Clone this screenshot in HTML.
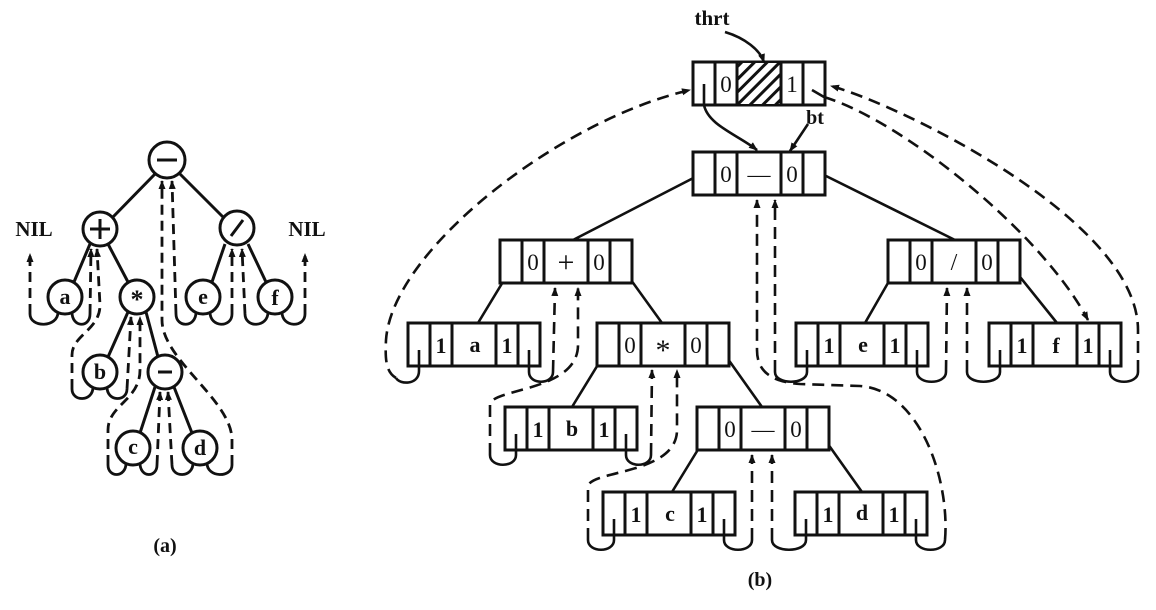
<!DOCTYPE html>
<html><head><meta charset="utf-8"><style>
html,body{margin:0;padding:0;background:#fff;}
svg{display:block;}
text{font-family:"Liberation Serif",serif;fill:#111;}
</style></head><body>
<svg width="1156" height="610" viewBox="0 0 1156 610" xmlns="http://www.w3.org/2000/svg">
<defs>
<marker id="ar" markerWidth="9" markerHeight="8" refX="8" refY="4" orient="auto" markerUnits="userSpaceOnUse"><path d="M0,0.5 L9,4 L0,7.5 Z" fill="#111"/></marker>
<pattern id="hatch" width="9" height="9" patternUnits="userSpaceOnUse" patternTransform="rotate(45)"><rect width="9" height="9" fill="#fff"/><rect width="3" height="9" fill="#111"/></pattern>
<g id="box"><rect x="0" y="0" width="132" height="43" fill="#fff"/><path d="M0 0H132V43H0Z M22 0V43M44 0V43M88 0V43M110 0V43" fill="none" stroke="#111" stroke-width="3"/></g>
</defs>

<!-- ============ (a) ============ -->
<g stroke="#111" stroke-width="3" fill="none">
<path d="M155,174 L112,218 M180,174 L224,218 M90,244 L74,282 M108,244 L128,282 M225,244 L212,282 M248,244 L266,282 M128,312 L108,357 M146,312 L158,357 M155,387 L140,433 M174,387 L192,433"/>
</g>
<g stroke="#111" stroke-width="3" fill="#fff">
<circle cx="167" cy="160" r="18"/><circle cx="100" cy="229" r="17"/><circle cx="237" cy="228" r="17"/>
<circle cx="65" cy="297" r="17"/><circle cx="137" cy="297" r="17"/><circle cx="203" cy="297" r="17"/><circle cx="275" cy="297" r="17"/>
<circle cx="100" cy="372" r="17"/><circle cx="165" cy="372" r="17"/><circle cx="133" cy="448" r="17"/><circle cx="200" cy="448" r="17"/>
</g>
<g stroke="#111" stroke-width="3" fill="none">
<path d="M157,160H177 M90,229H110 M100,219V239 M231,236L243,220 M158,372H172"/>
</g>
<g font-size="22" font-weight="bold" text-anchor="middle">
<text x="65" y="304">a</text><text x="137" y="308" font-size="26">*</text><text x="203" y="304">e</text><text x="275" y="305">f</text>
<text x="100" y="379">b</text><text x="133" y="454">c</text><text x="200" y="455">d</text>
<text x="34" y="236" font-size="21">NIL</text><text x="307" y="236" font-size="21">NIL</text>
<text x="165" y="552" font-size="20">(a)</text>
</g>
<g stroke="#111" stroke-width="2.8" fill="none">
<path d="M58,312 C58,328 30,328 30,314 M72,312 C72,328 90,328 90,314"/>
<path d="M93,387 C93,402 72,402 72,389 M107,387 C107,402 127,402 127,389"/>
<path d="M126,463 C126,478 108,478 108,465 M140,463 C140,478 157,478 157,465"/>
<path d="M193,463 C193,478 172,478 172,465 M207,463 C207,478 232,478 232,465"/>
<path d="M196,312 C196,328 176,328 176,314 M210,312 C210,328 232,328 232,314"/>
<path d="M268,312 C268,328 245,328 245,314 M282,312 C282,328 305,328 305,314"/>
</g>
<g stroke="#111" stroke-width="2.8" fill="none" stroke-dasharray="10,6">
<path d="M30,314 L30,254" marker-end="url(#ar)"/>
<path d="M90,314 L91,249" marker-end="url(#ar)"/>
<path d="M72,389 L72,355 C72,335 100,330 100,305 L97,249" marker-end="url(#ar)"/>
<path d="M127,389 L131,317" marker-end="url(#ar)"/>
<path d="M108,465 L108,430 C108,405 140,400 140,370 L140,317" marker-end="url(#ar)"/>
<path d="M157,465 L160,392" marker-end="url(#ar)"/>
<path d="M172,465 L168,392" marker-end="url(#ar)"/>
<path d="M232,465 L232,440 C232,400 162,360 162,320 L162,181" marker-end="url(#ar)"/>
<path d="M176,314 L172,181" marker-end="url(#ar)"/>
<path d="M232,314 L232,249" marker-end="url(#ar)"/>
<path d="M245,314 L242,249" marker-end="url(#ar)"/>
<path d="M305,314 L305,254" marker-end="url(#ar)"/>
</g>

<!-- ============ (b) ============ -->
<g stroke="#111" stroke-width="2.6" fill="none">
<path d="M705,172 L573,240 M818,172 L955,240 M515,262 L478,323 M618,262 L662,323 M610,345 L572,407 M718,345 L762,407 M710,430 L672,492 M818,430 L862,492 M900,262 L865,323 M1008,262 L1057,323"/>
</g>
<use href="#box" x="693" y="62"/><rect x="737" y="63" width="44" height="41" fill="url(#hatch)"/><path d="M737 62V105M781 62V105" stroke="#111" stroke-width="3"/>
<use href="#box" x="693" y="152"/>
<use href="#box" x="500" y="240"/><use href="#box" x="888" y="240"/>
<use href="#box" x="408" y="323"/><use href="#box" x="597" y="323"/><use href="#box" x="796" y="323"/><use href="#box" x="989" y="323"/>
<use href="#box" x="505" y="407"/><use href="#box" x="697" y="407"/>
<use href="#box" x="603" y="492"/><use href="#box" x="795" y="492"/>
<g font-size="23" text-anchor="middle">
<text x="726" y="92">0</text><text x="792" y="92">1</text>
<text x="726" y="182">0</text><text x="759" y="182">—</text><text x="792" y="182">0</text>
<text x="533" y="270">0</text><text x="566" y="272" font-size="30">+</text><text x="599" y="270">0</text>
<text x="921" y="270">0</text><text x="954" y="270" font-size="24">/</text><text x="987" y="270">0</text>
<text x="630" y="353">0</text><text x="663" y="360" font-size="30">*</text><text x="696" y="353">0</text>
<text x="730" y="437">0</text><text x="763" y="437">—</text><text x="796" y="437">0</text>
</g>
<g font-size="22" font-weight="bold" text-anchor="middle">
<text x="441" y="353">1</text><text x="475" y="352">a</text><text x="507" y="353">1</text>
<text x="829" y="353">1</text><text x="863" y="352">e</text><text x="895" y="353">1</text>
<text x="1022" y="353">1</text><text x="1056" y="353">f</text><text x="1088" y="353">1</text>
<text x="538" y="437">1</text><text x="572" y="436">b</text><text x="604" y="437">1</text>
<text x="636" y="522">1</text><text x="670" y="521">c</text><text x="702" y="522">1</text>
<text x="828" y="522">1</text><text x="862" y="520">d</text><text x="894" y="522">1</text>
<text x="712" y="25" font-size="21">thrt</text>
<text x="815" y="124" font-size="20">bt</text>
<text x="760" y="586" font-size="20">(b)</text>
</g>
<g stroke="#111" stroke-width="2.6" fill="none">
<path d="M725,32 C745,38 760,50 764,62" marker-end="url(#ar)"/>
<path d="M808,124 L790,151" marker-end="url(#ar)"/>
<path d="M704,84 L704,105 C708,125 738,135 757,150" marker-end="url(#ar)"/>
<path d="M812,90 L824,97"/>
<path d="M419,350 L419,371 C419,385 400,385 396,378"/>
<path d="M529,350 L529,372 C529,385 553,385 553,372"/>
<path d="M516,434 L516,455 C516,468 490,468 490,455 M626,434 L626,455 C626,468 651,468 651,455"/>
<path d="M614,519 L614,540 C614,553 588,553 588,540 M724,519 L724,540 C724,553 752,553 752,540"/>
<path d="M806,519 L806,540 C806,553 772,553 772,540 M916,519 L916,540 C916,553 945,553 945,540"/>
<path d="M807,350 L807,372 C807,385 775,385 775,372 M917,350 L917,372 C917,385 946,385 946,372"/>
<path d="M1000,350 L1000,372 C1000,385 967,385 967,372 M1110,350 L1110,372 C1110,385 1138,385 1138,372"/>
</g>
<g stroke="#111" stroke-width="2.6" fill="none" stroke-dasharray="12,7">
<path d="M396,378 C386,372 385,360 386,340 C392,250 560,120 690,90" marker-end="url(#ar)"/>
<path d="M553,372 L555,288" marker-end="url(#ar)"/>
<path d="M490,455 L490,405 C490,388 578,392 578,345 L578,288" marker-end="url(#ar)"/>
<path d="M651,455 L652,370" marker-end="url(#ar)"/>
<path d="M588,540 L588,487 C588,470 677,475 677,430 L677,370" marker-end="url(#ar)"/>
<path d="M752,540 L752,455" marker-end="url(#ar)"/>
<path d="M772,540 L772,455" marker-end="url(#ar)"/>
<path d="M945,540 C950,480 920,390 860,386 L800,384 C772,382 757,372 757,350 L757,200" marker-end="url(#ar)"/>
<path d="M775,372 L775,200" marker-end="url(#ar)"/>
<path d="M946,372 L947,288" marker-end="url(#ar)"/>
<path d="M967,372 L967,288" marker-end="url(#ar)"/>
<path d="M1138,372 L1138,330 C1138,220 900,105 831,86" marker-end="url(#ar)"/>
<path d="M824,97 C900,120 1040,230 1088,320" marker-end="url(#ar)"/>
</g>
</svg>
</body></html>
